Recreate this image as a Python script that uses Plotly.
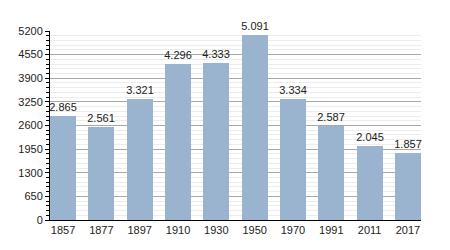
import plotly.graph_objects as go

years = ["1857", "1877", "1897", "1910", "1930", "1950", "1970", "1991", "2011", "2017"]
population = [2865, 2561, 3321, 4296, 4333, 5091, 3334, 2587, 2045, 1857]
y_ticks = [0, 650, 1300, 1950, 2600, 3250, 3900, 4550, 5200]

bar_w = 0.68
fig = go.Figure(go.Bar(
    x=list(range(len(years))),
    y=population,
    width=bar_w,
    marker=dict(color="#9ab3cf", line=dict(width=0)),
    text=population,
    texttemplate="%{y:,}",
    textposition="outside",
    textfont=dict(size=11, color="#222"),
    constraintext="none",
    cliponaxis=False,
))

fig.update_layout(
    width=450, height=250,
    margin=dict(l=50, r=29, t=31, b=30),
    paper_bgcolor="white", plot_bgcolor="white",
    separators=",.",
    font=dict(family="Liberation Sans, Arial, sans-serif", size=11, color="#222"),
    showlegend=False,
    bargap=0,
)
fig.update_xaxes(
    range=[-bar_w / 2, len(years) - 1 + bar_w / 2],
    tickmode="array", tickvals=list(range(len(years))), ticktext=years,
    showline=True, linecolor="#000", linewidth=1,
    showgrid=False, ticks="", zeroline=False,
)
fig.update_yaxes(
    range=[0, 5200],
    tickmode="array", tickvals=y_ticks,
    showline=True, linecolor="#000", linewidth=1,
    showgrid=True, gridcolor="#a8a8a8", gridwidth=1,
    ticks="outside", ticklen=4, tickcolor="#000",
    zeroline=False,
    minor=dict(dtick=130, showgrid=True, gridcolor="#ececec", ticks="outside", ticklen=3, tickcolor="#000"),
)

fig.write_html("out.html")
